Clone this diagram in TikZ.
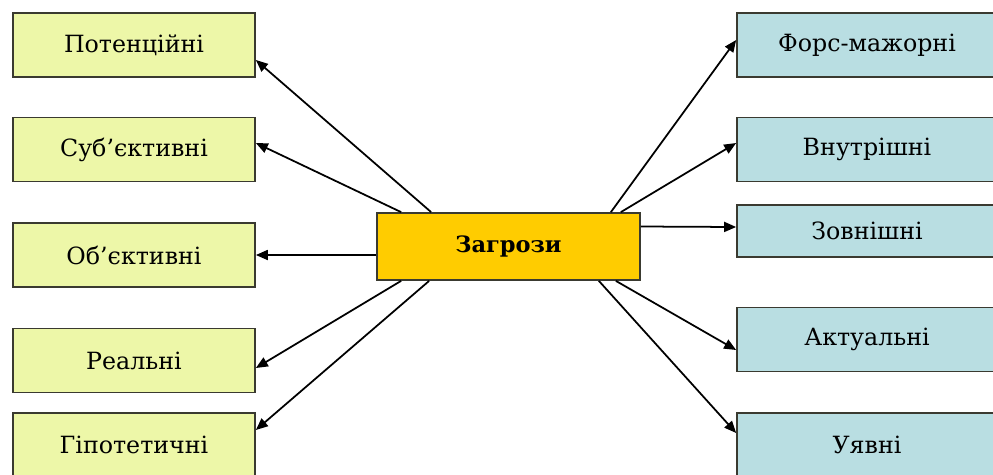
\documentclass[tikz,border=0pt]{standalone}
\usepackage{fontspec}
\setmainfont{DejaVu Serif}
\usepackage{tikz}
\usetikzlibrary{arrows.meta,positioning,calc}
\definecolor{leftfill}{HTML}{EDF7A8}
\definecolor{rightfill}{HTML}{B9DEE2}
\definecolor{centerfill}{HTML}{FFCC00}
\definecolor{boxline}{HTML}{3A3A30}

\begin{document}
\begin{tikzpicture}[x=0.02cm, y=-0.02cm,
  every node/.style={font=\fontsize{13.5}{16}\selectfont},
  leftbox/.style={draw=boxline, line width=1pt, fill=leftfill, minimum width=4.84cm, minimum height=1.28cm, inner sep=0pt},
  rightbox/.style={draw=boxline, line width=1pt, fill=rightfill, minimum width=5.2cm, minimum height=1.28cm, inner sep=0pt},
  link/.style={line width=1pt, -{Triangle[length=0.24cm, width=0.2cm]}}]
\useasboundingbox (0,0) rectangle (993,474);
\clip (0,0) rectangle (993,474);
% centre
\node[draw=boxline, line width=1pt, fill=centerfill, minimum width=5.26cm, minimum height=1.34cm, inner sep=0pt, font=\fontsize{12.8}{16}\selectfont\bfseries] (threat) at (508.5,246.5) {Загрози};
% left column
\node[leftbox] (potential) at (134,45) {Потенційні};
\node[leftbox] (subjective) at (134,149.5) {Суб’єктивні};
\node[leftbox] (objective) at (134,255) {Об’єктивні};
\node[leftbox] (real) at (134,360.5) {Реальні};
\node[leftbox] (hypothetic) at (134,445) {Гіпотетичні};
% right column
\node[rightbox] (force) at (867,45) {Форс-мажорні};
\node[rightbox] (internal) at (867,149.5) {Внутрішні};
\node[rightbox, minimum height=1.04cm] (external) at (867,231) {Зовнішні};
\node[rightbox] (actual) at (867,339.5) {Актуальні};
\node[rightbox] (imagined) at (867,445) {Уявні};
% arrows
\draw[link] ($(threat.north west)+(55,0)$) -- ($(potential.east)+(0,15)$);
\draw[link] ($(threat.north west)+(25,0)$) -- ($(subjective.east)+(0,-6.5)$);
\draw[link] (threat.west |- objective.east) -- (objective.east);
\draw[link] ($(threat.south west)+(25,0)$) -- ($(real.east)+(0,7.5)$);
\draw[link] ($(threat.south west)+(53,0)$) -- ($(hypothetic.east)+(0,-15)$);
\draw[link] ($(threat.north east)+(-30,0)$) -- ($(force.west)+(0,-5)$);
\draw[link] ($(threat.north east)+(-20,0)$) -- ($(internal.west)+(0,-6.5)$);
\draw[link] ($(threat.east)+(0,-20)$) -- ($(external.west)+(0,-4)$);
\draw[link] ($(threat.south east)+(-25,0)$) -- ($(actual.west)+(0,10.5)$);
\draw[link] ($(threat.south east)+(-42,0)$) -- ($(imagined.west)+(0,-12)$);
\end{tikzpicture}
\end{document}
